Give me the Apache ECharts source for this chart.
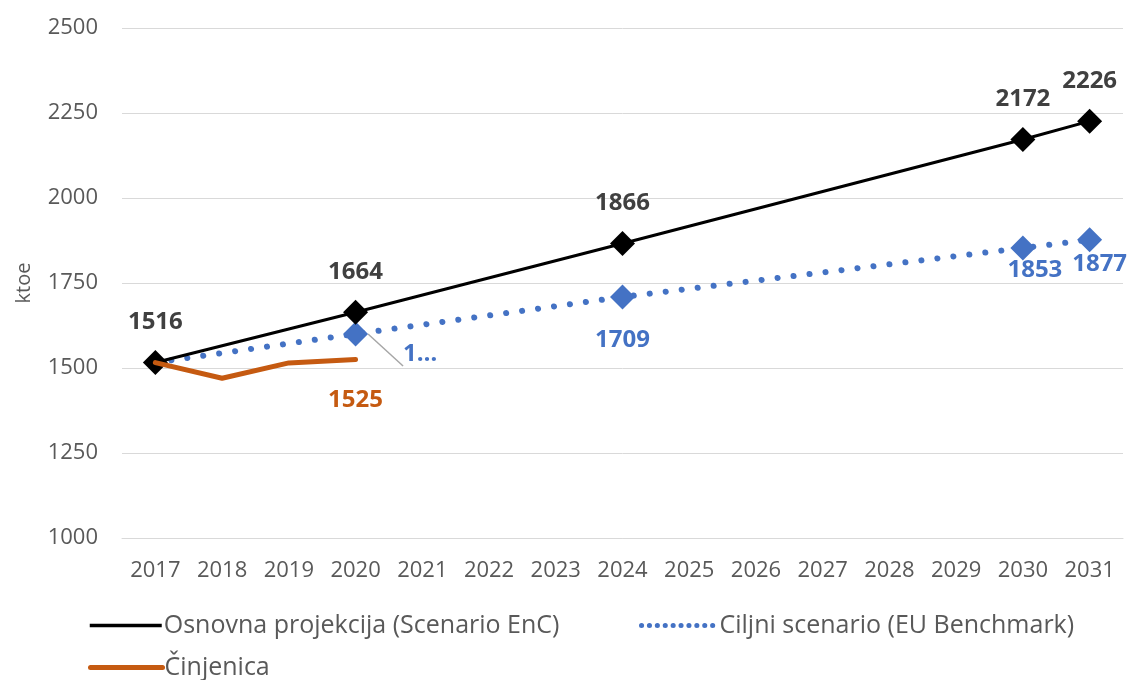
<!DOCTYPE html>
<html>
<head>
<meta charset="utf-8">
<script src="https://cdn.jsdelivr.net/npm/echarts@6/dist/echarts.min.js"></script>
<style>
html,body{margin:0;padding:0;background:#fff;}
#chart{width:1133px;height:680px;}
</style>
</head>
<body>
<div id="chart"></div>
<script>
const years = ['2017','2018','2019','2020','2021','2022','2023','2024','2025','2026','2027','2028','2029','2030','2031'];
const osnovna = [1516, null, null, 1664, null, null, null, 1866, null, null, null, null, null, 2172, 2226];
const ciljni = [1516, null, null, 1600, null, null, null, 1709, null, null, null, null, null, 1853, 1877];
const cinjenica = [1516, 1470, 1515, 1525, null, null, null, null, null, null, null, null, null, null, null];
const seriesNames = ['Osnovna projekcija (Scenario EnC)', 'Ciljni scenario (EU Benchmark)', 'Činjenica'];
const yTicks = {min: 1000, max: 2500, interval: 250};

const FONT = '"Open Sans", sans-serif';
const chart = echarts.init(document.getElementById('chart'));

const blueLabelOpts = {
  3: {show: true, formatter: '1…', position: 'right', offset: [30, 20]},
  7: {show: true, position: 'bottom', distance: 19},
  13: {show: true, position: 'bottom', distance: -2, offset: [12, 0]},
  14: {show: true, position: 'bottom', distance: 0, offset: [10, 0]}
};

const blueData = ciljni.map((v, i) => {
  const d = {value: v};
  if (i === 0) d.symbolSize = 0;
  if (blueLabelOpts[i]) d.label = blueLabelOpts[i];
  if (i === 3) d.labelLine = {show: true, lineStyle: {color: '#a6a6a6', width: 1.5}};
  return d;
});

const orangeData = cinjenica.map((v, i) => {
  const d = {value: v};
  if (i === 3) d.label = {show: true, position: 'bottom', distance: 28};
  return d;
});

const legendText = {color: '#595959', fontSize: 25, fontFamily: FONT, padding: [0,0,0,-3]};

chart.setOption({
  animation: false,
  textStyle: {fontFamily: FONT},
  grid: {left: 122, right: 10, top: 28, bottom: 142, containLabel: false},
  xAxis: {
    type: 'category',
    data: years,
    boundaryGap: true,
    axisLine: {show: true, lineStyle: {color: '#d9d9d9', width: 1}},
    axisTick: {show: false},
    axisLabel: {color: '#595959', fontSize: 22, margin: 22, fontFamily: FONT, interval: 0}
  },
  yAxis: {
    type: 'value',
    min: yTicks.min, max: yTicks.max, interval: yTicks.interval,
    name: 'ktoe',
    nameLocation: 'middle',
    nameGap: 88,
    nameTextStyle: {color: '#595959', fontSize: 20, fontFamily: FONT},
    axisLine: {show: false},
    axisTick: {show: false},
    splitLine: {show: true, lineStyle: {color: '#d9d9d9', width: 1}},
    axisLabel: {color: '#595959', fontSize: 22, margin: 24, fontFamily: FONT, formatter: v => String(v)}
  },
  legend: [
    {
      data: [{name: seriesNames[0], lineStyle: {width: 3.5, color: '#000000'}}],
      left: 83, top: 608, itemWidth: 72, itemHeight: 26,
      textStyle: legendText,
      itemStyle: {opacity: 0}
    },
    {
      data: [{name: seriesNames[1], lineStyle: {type: [0.1, 7.8], width: 5, cap: 'round', color: '#4472C4'}}],
      left: 634, top: 608, itemWidth: 76, itemHeight: 26,
      textStyle: legendText,
      itemStyle: {opacity: 0}
    },
    {
      data: [{name: seriesNames[2], lineStyle: {width: 5, cap: 'round', color: '#C55A11'}}],
      left: 83, top: 650, itemWidth: 72, itemHeight: 26,
      textStyle: legendText,
      itemStyle: {opacity: 0}
    }
  ],
  series: [
    {
      name: seriesNames[0],
      type: 'line',
      data: osnovna,
      connectNulls: true,
      symbol: 'diamond',
      symbolSize: 25,
      z: 3,
      lineStyle: {color: '#000000', width: 3},
      itemStyle: {color: '#000000'},
      label: {show: true, position: 'top', distance: 16, color: '#404040', fontSize: 24, fontWeight: 'bold', fontFamily: FONT}
    },
    {
      name: seriesNames[1],
      type: 'line',
      data: blueData,
      connectNulls: true,
      symbol: 'diamond',
      symbolSize: 25,
      z: 2,
      lineStyle: {color: '#4472C4', width: 6, type: [0.1, 16], cap: 'round'},
      itemStyle: {color: '#4472C4'},
      label: {show: false, color: '#4472C4', fontSize: 24, fontWeight: 'bold', fontFamily: FONT},
      labelLine: {show: false}
    },
    {
      name: seriesNames[2],
      type: 'line',
      data: orangeData,
      connectNulls: false,
      symbol: 'circle',
      symbolSize: 1,
      z: 4,
      lineStyle: {color: '#C55A11', width: 5, cap: 'round', join: 'round'},
      itemStyle: {color: 'rgba(0,0,0,0)'},
      label: {show: false, color: '#C55A11', fontSize: 24, fontWeight: 'bold', fontFamily: FONT}
    }
  ]
});
</script>
</body>
</html>
